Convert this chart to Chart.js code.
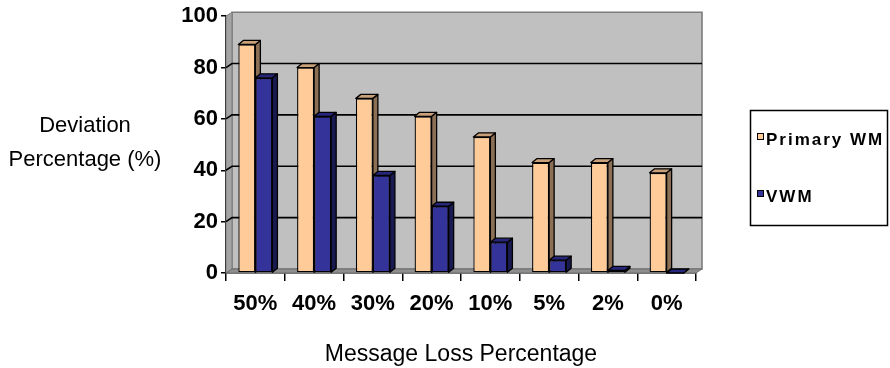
<!DOCTYPE html>
<html>
<head>
<meta charset="utf-8">
<script src="https://cdn.jsdelivr.net/npm/chart.js@4/dist/chart.umd.min.js"></script>
<style>
  html, body { margin: 0; padding: 0; background: #fff; }
  #wrap { width: 890px; height: 368px; }
</style>
</head>
<body>
<div id="wrap"><canvas id="c" width="890" height="368"></canvas></div>
<script>
// Message loss levels and the deviation measured for each watermark scheme
const categories = ['50%', '40%', '30%', '20%', '10%', '5%', '2%', '0%'];
const primaryWM = [89, 80, 68, 61, 53, 43, 43, 39];
const vwm = [76, 61, 38, 26, 12, 5, 1, 0];
const yTickValues = [0, 20, 40, 60, 80, 100];
const seriesNames = ['Primary WM', 'VWM'];
const yTitleLines = ['Deviation', 'Percentage (%)'];
const xTitle = 'Message Loss Percentage';

// Face colours: front, top, side
const primaryFaces = ['#ffcc99', '#c9a07a', '#8c7056'];
const vwmFaces = ['#333399', '#26267a', '#1a1a52'];

// Depth of the plot box and of each column
const WALL_DX = 6, WALL_DY = 4;
const BAR_DX = 5, BAR_DY = 4;

const FONT = '"Liberation Sans", Arial, Helvetica, sans-serif';

function poly(ctx, pts, fill, stroke, lw) {
  ctx.beginPath();
  ctx.moveTo(pts[0][0], pts[0][1]);
  for (let i = 1; i < pts.length; i++) ctx.lineTo(pts[i][0], pts[i][1]);
  ctx.closePath();
  if (fill) { ctx.fillStyle = fill; ctx.fill(); }
  if (stroke) { ctx.strokeStyle = stroke; ctx.lineWidth = lw || 1; ctx.stroke(); }
}

// top and right faces of one column
function columnDepth(ctx, el, faces) {
  const p = el.getProps(['x', 'y', 'base', 'width'], true);
  const l = p.x - p.width / 2, r = p.x + p.width / 2;
  const t = Math.min(p.y, p.base), b = Math.max(p.y, p.base);
  poly(ctx, [[r, t], [r + BAR_DX, t - BAR_DY], [r + BAR_DX, b - BAR_DY], [r, b]], faces[2], '#000', 1.3);
  poly(ctx, [[l, t], [l + BAR_DX, t - BAR_DY], [r + BAR_DX, t - BAR_DY], [r, t]], faces[1], '#000', 1.3);
}

const box3d = {
  id: 'box3d',
  beforeDatasetsDraw(chart) {
    const { ctx, chartArea: a, scales: { y } } = chart;
    ctx.save();
    const L = a.left, R = a.right, T = y.getPixelForValue(100), B = y.getPixelForValue(0);
    // back wall
    poly(ctx, [[L + WALL_DX, T - WALL_DY], [R + WALL_DX, T - WALL_DY], [R + WALL_DX, B - WALL_DY], [L + WALL_DX, B - WALL_DY]], '#c0c0c0', '#7c7c7c', 1.6);
    // left side wall
    poly(ctx, [[L, T], [L + WALL_DX, T - WALL_DY], [L + WALL_DX, B - WALL_DY], [L, B]], '#a4a4a4', '#7c7c7c', 1);
    // floor
    poly(ctx, [[L, B], [R, B], [R + WALL_DX, B - WALL_DY], [L + WALL_DX, B - WALL_DY]], '#8e8e8e', '#6e6e6e', 1);
    // gridlines on the back wall, continued across the side wall
    ctx.strokeStyle = '#000';
    ctx.lineWidth = 1.6;
    yTickValues.forEach(v => {
      if (v === 0 || v === 100) return;
      const py = y.getPixelForValue(v);
      ctx.beginPath();
      ctx.moveTo(L, py);
      ctx.lineTo(L + WALL_DX, py - WALL_DY);
      ctx.lineTo(R + WALL_DX, py - WALL_DY);
      ctx.stroke();
    });
    ctx.restore();
  },
  afterDatasetsDraw(chart) {
    const { ctx } = chart;
    const m0 = chart.getDatasetMeta(0), m1 = chart.getDatasetMeta(1);
    ctx.save();
    ctx.lineJoin = 'round';
    // per category: left column depth first, then the right column on top of it
    m0.data.forEach((el, i) => {
      columnDepth(ctx, el, primaryFaces);
      const el1 = m1.data[i];
      if (el1) {
        el1.draw(ctx, chart.chartArea);
        columnDepth(ctx, el1, vwmFaces);
      }
    });
    ctx.restore();
  },
  afterDraw(chart) {
    const { ctx, chartArea: a } = chart;
    ctx.save();
    ctx.fillStyle = '#000';
    ctx.textAlign = 'center';
    ctx.textBaseline = 'middle';
    // y axis title, horizontal, two lines
    ctx.font = '22px ' + FONT;
    ctx.fillText(yTitleLines[0], 85, 126);
    ctx.fillText(yTitleLines[1], 85, 160);
    // x axis title
    ctx.font = '23px ' + FONT;
    ctx.fillText(xTitle, (a.left + a.right) / 2, 355);

    // legend
    ctx.strokeStyle = '#000';
    ctx.lineWidth = 1.5;
    ctx.strokeRect(750.5, 110.5, 137, 115);
    const rows = [[seriesNames[0], primaryFaces[0], 139], [seriesNames[1], vwmFaces[0], 196]];
    ctx.textAlign = 'left';
    ctx.font = 'bold 17px ' + FONT;
    ctx.letterSpacing = '2px';
    rows.forEach(([name, col, cy]) => {
      ctx.fillStyle = col;
      ctx.fillRect(757.5, cy - 5.5, 6, 6);
      ctx.lineWidth = 1;
      ctx.strokeRect(757.5, cy - 5.5, 6, 6);
      ctx.fillStyle = '#000';
      ctx.fillText(name, 766, cy + 1);
    });
    ctx.restore();
  }
};

new Chart(document.getElementById('c'), {
  type: 'bar',
  data: {
    labels: categories,
    datasets: [
      { label: seriesNames[0], data: primaryWM, backgroundColor: primaryFaces[0] },
      { label: seriesNames[1], data: vwm, backgroundColor: vwmFaces[0] }
    ]
  },
  options: {
    responsive: false,
    animation: false,
    devicePixelRatio: 1,
    layout: { padding: { top: 15, right: 194, bottom: 0, left: 0 } },
    datasets: {
      bar: {
        categoryPercentage: 0.58,
        barPercentage: 1.0,
        borderColor: '#000',
        borderWidth: 1.3,
        borderSkipped: false
      }
    },
    plugins: { legend: { display: false }, tooltip: { enabled: false } },
    scales: {
      x: {
        afterFit(s) { s.height = 95; },
        grid: { drawOnChartArea: false, color: '#000', lineWidth: 1.5, tickLength: 8, offset: true },
        border: { color: '#000', width: 1.5 },
        ticks: {
          color: '#000', padding: 10, maxRotation: 0, autoSkip: false,
          font: { family: FONT, size: 22, weight: 'bold' }
        }
      },
      y: {
        min: 0, max: 100,
        afterFit(s) { s.width = 226; },
        afterBuildTicks(s) { s.ticks = yTickValues.map(v => ({ value: v })); },
        grid: { drawOnChartArea: false, color: '#000', lineWidth: 1.5, tickLength: 5 },
        border: { color: '#000', width: 1.5 },
        ticks: {
          color: '#000', padding: 3,
          font: { family: FONT, size: 22, weight: 'bold' }
        }
      }
    }
  },
  plugins: [box3d]
});
</script>
</body>
</html>
